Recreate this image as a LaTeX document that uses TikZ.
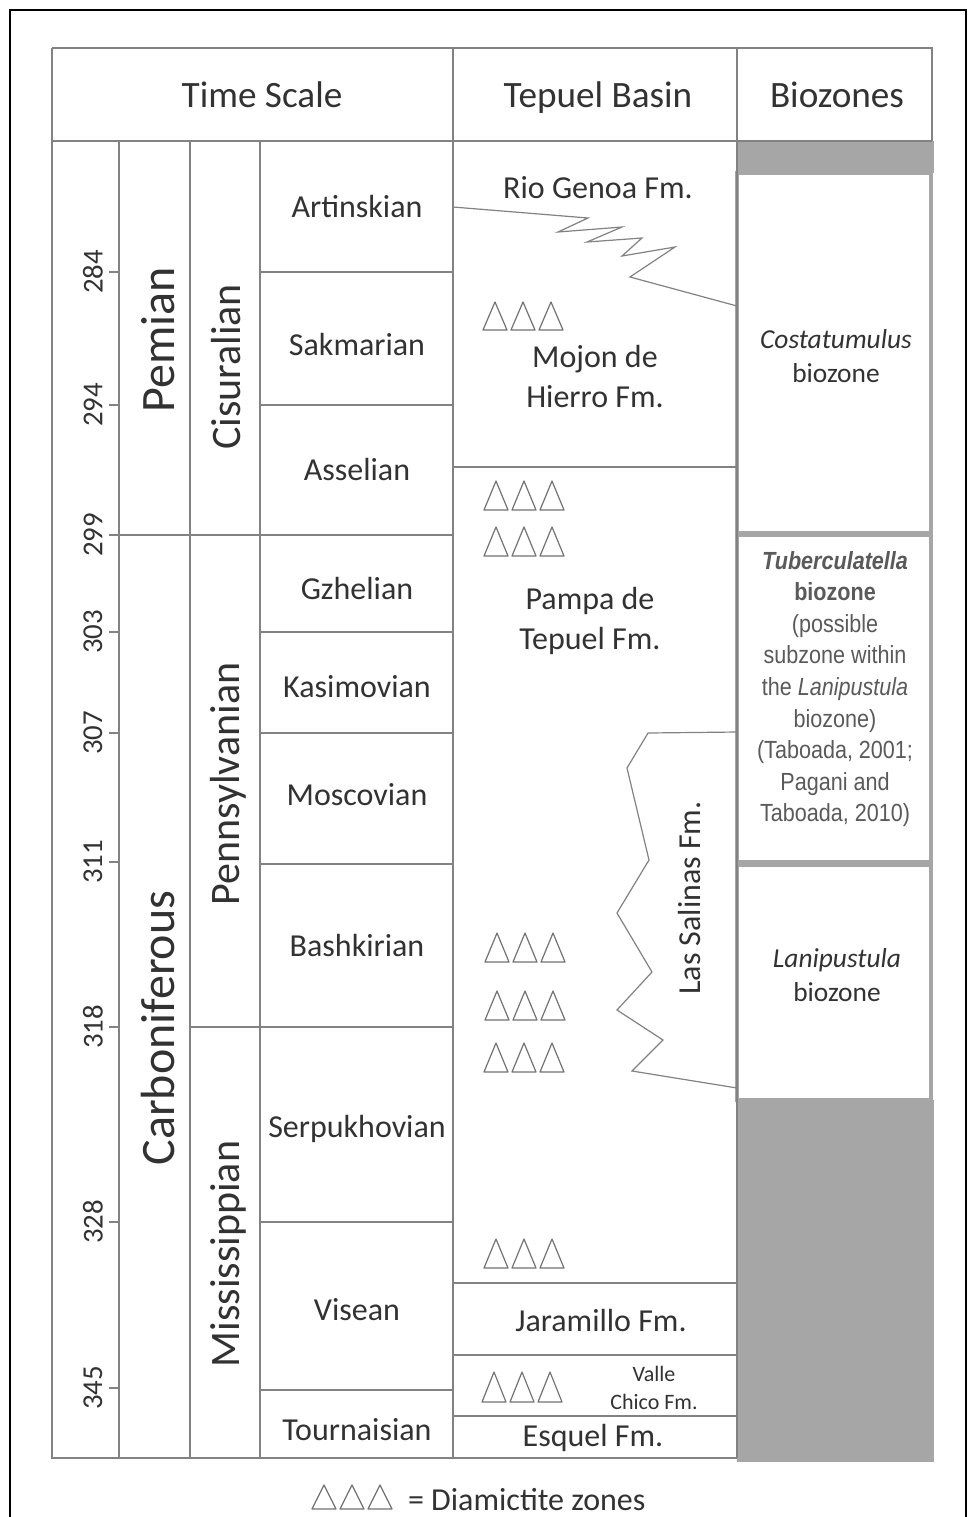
\documentclass[tikz,border=0pt]{standalone}
\usepackage{fontspec}
\setmainfont{Carlito}
\newfontfamily\arialfont[FakeStretch=0.87]{Liberation Sans}
\usepackage{tikz}

\definecolor{linegray}{RGB}{130,130,130}
\definecolor{zonegray}{RGB}{166,166,166}
\definecolor{textgray}{RGB}{50,50,50}
\definecolor{softgray}{RGB}{90,90,90}

\begin{document}
\begin{tikzpicture}
        [%%%%%%%%%%%%%%%%%%%%%%%%%%%%%%
        x=0.5pt, y=-0.5pt,
        rule/.style={draw=linegray, line width=0.9pt},
        outer/.style={draw=linegray, line width=1.3pt},
        zonebox/.style={draw=zonegray, line width=2pt},
        tri/.style={draw=black!55, line width=0.6pt, line join=round},
        head/.style={font=\fontsize{18.6}{22}\selectfont, text=textgray, anchor=base},
        stage/.style={font=\fontsize{16}{19}\selectfont, text=textgray},
        fm/.style={font=\fontsize{16}{20}\selectfont, text=textgray, align=center},
        smallfm/.style={font=\fontsize{11}{14}\selectfont, text=textgray, align=center},
        period/.style={font=\fontsize{24}{28}\selectfont, text=textgray, rotate=90},
        epoch/.style={font=\fontsize{21}{25}\selectfont, text=textgray, rotate=90},
        age/.style={font=\fontsize{14.4}{16}\selectfont, text=textgray, rotate=90},
        bio/.style={font=\fontsize{13.7}{17}\selectfont, text=textgray, align=center},
        tub/.style={font=\arialfont\fontsize{12.4}{15.8}\selectfont, text=softgray, align=center},
        ]%%%%%%%%%%%%%%%%%%%%%%%%%%%%%%
        \useasboundingbox (0,0) rectangle (968,1517);
        \fill[white] (0,0) rectangle (968,1517);
        % black frame, cut at the bottom
        \draw[line width=1pt] (10,1530) -- (10,10) -- (966,10) -- (966,1530);

        % grey fills of the biozone column
        \fill[zonegray] (737,141) rectangle (934,173);
        \fill[zonegray] (737,1100) rectangle (934,1462);
        \draw[zonebox] (737,173) rectangle (931,533);
        \draw[zonebox] (737,535) rectangle (931,862);
        \draw[zonebox] (737,865) rectangle (931,1100);

        % header
        \draw[outer] (52,48) -- (932,48) -- (932,141);
        \draw[outer] (52,141) -- (932,141);
        \draw[outer] (52,48) -- (52,1458) -- (737,1458);
        \draw[rule] (453,48) -- (453,1458);
        \draw[rule] (737,48) -- (737,1458);
        \node[head] (timescale) at (262,107) {Time Scale};
        \node[head] (tepuel) at (598,107) {Tepuel Basin};
        \node[head] (biozones) at (837,107) {Biozones};

        % time scale columns
        \foreach \x in {119,190,260}{
            \draw[rule] (\x,141) -- (\x,1458);
        }
        \draw[rule] (119,535) -- (453,535);
        \draw[rule] (190,1027) -- (453,1027);
        \foreach \y in {272,405,632,733,864,1222,1390}{
            \draw[rule] (260,\y) -- (453,\y);
        }
        \foreach \y/\age in {272/284,405/294,535/299,632/303,733/307,
                             862/311,1027/318,1222/328,1388/345}{
            % tick and age in Ma
            \draw[rule] (109,\y) -- (119,\y);
            \node[age] (ma\age) at (93,\y) {\age};
        }
        \node[period] (pemian) at (158,340) {Pemian};
        \node[period] (carbon) at (158,1028) {Carboniferous};
        \node[epoch] (cisur) at (226,367) {Cisuralian};
        \node[epoch] (pennsyl) at (228,784) {Pennsylvanian};
        \node[epoch] (mississ) at (228,1254) {Mississippian};
        \foreach \y/\name in {206/Artinskian,344/Sakmarian,469/Asselian,
                              588/Gzhelian,687/Kasimovian,795/Moscovian,
                              945/Bashkirian,1129/Serpukhovian,1310/Visean,
                              1430/Tournaisian}{
            \node[stage] (\name) at (357,\y) {\name};
        }

        % Tepuel Basin column
        \foreach \y in {467,1283,1355,1416}{
            \draw[rule] (453,\y) -- (737,\y);
        }
        \draw[rule, line width=0.6pt] (453,207) -- (588,218) -- (558,232)
            -- (622,227) -- (587,242) -- (642,238) -- (622,256)
            -- (675,247) -- (630,277) -- (737,306);
        \draw[rule, line width=0.6pt] (737,732) -- (648,733) -- (627,768)
            -- (649,860) -- (617,913) -- (652,972) -- (617,1010)
            -- (663,1040) -- (632,1071) -- (737,1088);
        \node[fm] (riogenoa) at (598,188) {Rio Genoa Fm.};
        \node[fm] (mojon) at (595,377) {Mojon de\\Hierro Fm.};
        \node[fm] (pampa) at (590,621) {Pampa de\\Tepuel Fm.};
        \node[fm, rotate=90] (salinas) at (690,898) {Las Salinas Fm.};
        \node[fm] (jaramillo) at (601,1320) {Jaramillo Fm.};
        \node[smallfm] (valle) at (654,1388) {Valle\\Chico Fm.};
        \node[fm] (esquel) at (593,1438) {Esquel Fm.};

        % diamictite triangles
        \foreach \x/\y/\h in {483/330/28,484/510/29,484/556/29,485/962/29,
                              485/1020/29,484/1072/29,484/1268/29,
                              482/1402/30,312/1509/24}{
            \foreach \i in {0,1,2}{
                \draw[tri] (\x+28*\i,\y) -- ++(24,0) -- ++(-12,-\h) -- cycle;
            }
        }

        % biozones
        \node[bio] (costat) at (836,356) {\textit{Costatumulus}\\biozone};
        \node[tub] (tuberc) at (835,689) {\textbf{\textit{Tuberculatella}}\\
            \textbf{biozone}\\(possible\\subzone within\\
            the \textit{Lanipustula}\\biozone)\\(Taboada, 2001;\\
            Pagani and\\Taboada, 2010)};
        \node[bio] (lanip) at (837,975) {\textit{Lanipustula}\\biozone};

        % legend
        \node[stage, anchor=west] (legend) at (401,1500) {= Diamictite zones};

      \end{tikzpicture}
\end{document}
